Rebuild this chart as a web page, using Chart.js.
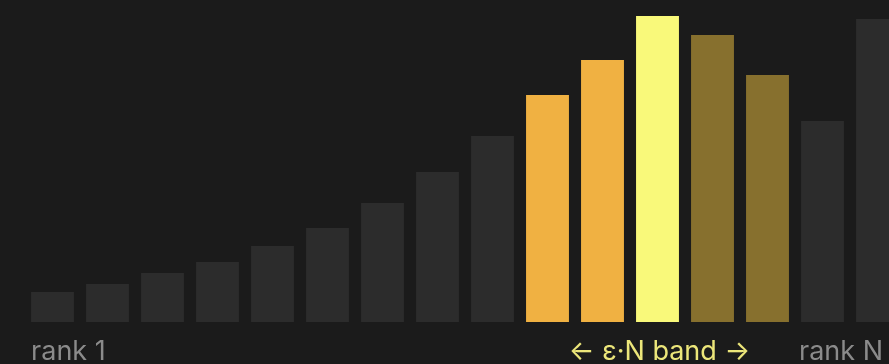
<!DOCTYPE html>
<html>
<head>
<meta charset="utf-8">
<script src="https://cdn.jsdelivr.net/npm/chart.js@4/dist/chart.umd.min.js"></script>
<style>
    html, body { margin: 0; padding: 0; background: #1b1b1b; overflow: hidden; }
    #wrap { width: 905px; height: 364px; position: relative; }
</style>
</head>
<body>
<div id="wrap"><canvas id="chart"></canvas></div>
<script>
// ranks 1..N, sorted left to right
let ranks = ['1','2','3','4','5','6','7','8','9','10','11','12','13','14','15','N'];
let heights = [30, 38, 49, 60, 76, 94, 119, 150, 186, 227, 262, 306, 287, 247, 201, 303];
// which bars fall inside the eps*N band
let band = ['', '', '', '', '', '', '', '', '', 'lower', 'lower', 'peak', 'upper', 'upper', '', ''];

let leftLabel = 'rank 1';
let bandLabel = '\u2190 \u03b5\u00b7N band \u2192';
let rightLabel = 'rank N';

let palette = {
    '': '#2c2c2c',
    lower: '#f0b142',
    peak: '#f9f97a',
    upper: '#87702e'
};

let labelPlugin = {
    id: 'bottomLabels',
    afterDraw(chart) {
        let ctx = chart.ctx;
        let bars = chart.getDatasetMeta(0).data;
        let y = 360;
        ctx.save();
        ctx.font = '27px Inter';
        ctx.textBaseline = 'alphabetic';

        ctx.fillStyle = '#8b8b8b';
        ctx.textAlign = 'left';
        ctx.fillText(leftLabel, bars[0].x - bars[0].width / 2, y);

        ctx.textAlign = 'right';
        ctx.fillText(rightLabel, 883, y);

        let peak = band.indexOf('peak');
        ctx.fillStyle = '#ece67a';
        ctx.textAlign = 'center';
        ctx.fillText(bandLabel, bars[peak].x + 2, y);
        ctx.restore();
    }
};

let canvas = document.getElementById('chart');
let chart = new Chart(canvas, {
    type: 'bar',
    data: {
        labels: ranks,
        datasets: [{
            data: heights,
            backgroundColor: ctx => palette[band[ctx.dataIndex]],
            borderWidth: 0,
            categoryPercentage: 1,
            barPercentage: 0.78
        }]
    },
    options: {
        responsive: true,
        maintainAspectRatio: false,
        animation: false,
        layout: { padding: { left: 25, right: 0, top: 0, bottom: 42 } },
        plugins: { legend: { display: false }, tooltip: { enabled: false } },
        scales: {
            x: { display: false },
            y: { display: false, min: 0, max: 322 }
        }
    },
    plugins: [labelPlugin]
});
</script>
</body>
</html>
